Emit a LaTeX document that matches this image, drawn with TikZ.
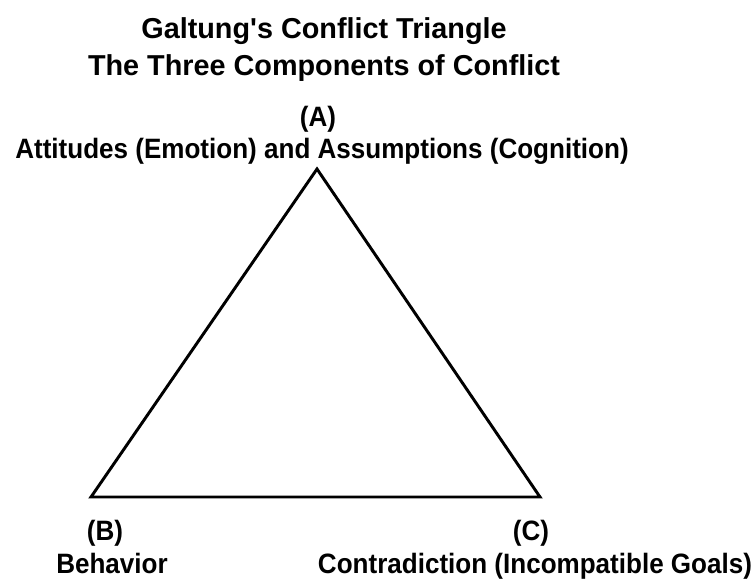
\documentclass[tikz,border=0pt]{standalone}
\usepackage{fontspec}
\setmainfont{Liberation Sans}
\newfontfamily\narrowfont[FakeStretch=0.93]{Liberation Sans}
\usetikzlibrary{positioning}

\begin{document}
\begin{tikzpicture}
[
    x=0.75pt, y=-0.75pt,
    title_text/.style={inner sep=0pt, anchor=base, font=\fontsize{21.6}{26}\selectfont\bfseries},
    label_text/.style={inner sep=0pt, anchor=base, font=\narrowfont\fontsize{21}{25}\selectfont\bfseries},
]
    \useasboundingbox (0,0) rectangle (756,579);
    \node[title_text] (title) at (324,38) {Galtung\textquotesingle s Conflict Triangle} ;
    \node[title_text] (subtitle) at (324,75) {The Three Components of Conflict} ;
    \coordinate (A) at (317,169) ;
    \coordinate (B) at (91,497) ;
    \coordinate (C) at (540,497) ;
    \node[label_text] (labA) at (318,126) {(A)} ;
    \node[label_text] (textA) at (322,158) {Attitudes (Emotion) and Assumptions (Cognition)} ;
    \node[label_text] (labB) at (105,540) {(B)} ;
    \node[label_text] (textB) at (112,573) {Behavior} ;
    \node[label_text] (labC) at (531,540) {(C)} ;
    \node[label_text] (textC) at (535,573) {Contradiction (Incompatible Goals)} ;
    \draw[line width=2.2pt, color=black] (A) -- (B) -- (C) -- cycle ;
\end{tikzpicture}
\end{document}
